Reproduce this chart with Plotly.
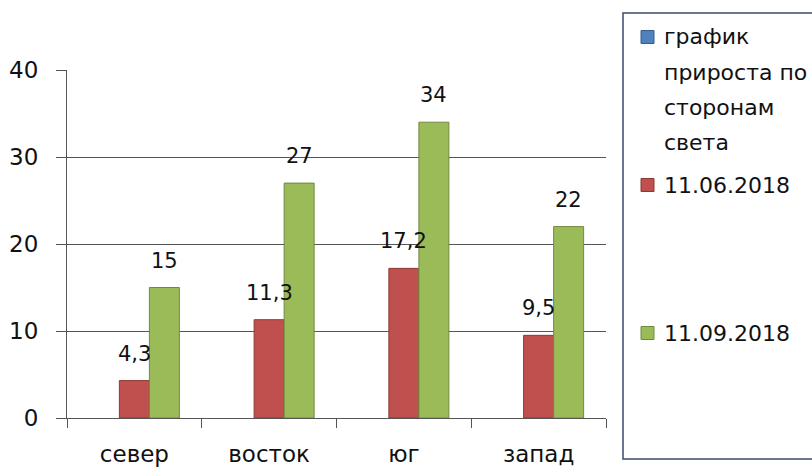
import plotly.graph_objects as go

# Data
categories = ["север", "восток", "юг", "запад"]
series_names = ["график прироста по сторонам света", "11.06.2018", "11.09.2018"]
legend_lines = [["график", "прироста по", "сторонам", "света"], ["11.06.2018"], ["11.09.2018"]]
values_growth = [None, None, None, None]
values_jun = [4.3, 11.3, 17.2, 9.5]
values_sep = [15, 27, 34, 22]
series_values = [values_growth, values_jun, values_sep]

fills = ["#4F81BD", "#C0504D", "#9BBB59"]
edges = ["#385D8A", "#8C3836", "#71893F"]

W, H = 812, 468
ML, MR, MT, MB = 67, 206, 70, 50
PW, PH = W - ML - MR, H - MT - MB
BARGAP = 0.332
FONT = "DejaVu Sans"
AXIS_COLOR = "#555555"
TEXT_COLOR = "#111111"


def px_x(px):
    return (px - ML) / PW


def px_y(py):
    return (H - MB - py) / PH


def fmt(v):
    return f"{v:g}".replace(".", ",")


fig = go.Figure()
for name, vals, fc, ec in zip(series_names, series_values, fills, edges):
    fig.add_trace(go.Bar(
        x=categories, y=vals, name=name,
        marker=dict(color=fc, line=dict(color=ec, width=1)),
        showlegend=False, hoverinfo="skip",
    ))

# value labels above each bar
n = len(series_values)
slot = PW / len(categories) * (1 - BARGAP) / n
annotations = []
for i, vals in enumerate(series_values):
    for cat, v in zip(categories, vals):
        if v is None:
            continue
        annotations.append(dict(
            x=cat, y=v, xref="x", yref="y", text=fmt(v), showarrow=False,
            xshift=(i - (n - 1) / 2) * slot, yshift=27, yanchor="middle",
            font=dict(family=FONT, size=21, color=TEXT_COLOR),
        ))

# legend panel
shapes = [dict(
    type="rect", xref="paper", yref="paper",
    x0=px_x(623), x1=px_x(830), y0=px_y(459), y1=px_y(13),
    line=dict(color="#3D4A6B", width=1.5), fillcolor="rgba(0,0,0,0)",
)]
entry_tops = [37, 185, 333]
line_step = 35
for lines, fc, ec, cy in zip(legend_lines, fills, edges, entry_tops):
    shapes.append(dict(
        type="rect", xref="paper", yref="paper",
        x0=px_x(641), x1=px_x(654), y0=px_y(cy + 6.5), y1=px_y(cy - 6.5),
        fillcolor=fc, line=dict(color=ec, width=1),
    ))
    for k, t in enumerate(lines):
        annotations.append(dict(
            x=px_x(662), y=px_y(cy + k * line_step), xref="paper", yref="paper",
            text=t, showarrow=False, xanchor="left", yanchor="middle",
            font=dict(family=FONT, size=22, color=TEXT_COLOR),
        ))

fig.update_layout(
    width=W, height=H,
    margin=dict(l=ML, r=MR, t=MT, b=MB, autoexpand=False),
    paper_bgcolor="white", plot_bgcolor="white",
    barmode="group", bargap=BARGAP, bargroupgap=0,
    showlegend=False,
    shapes=shapes, annotations=annotations,
    font=dict(family=FONT, color=TEXT_COLOR),
)
fig.update_xaxes(
    showline=True, linecolor=AXIS_COLOR, linewidth=1.2,
    ticks="outside", tickson="boundaries", ticklen=9, tickcolor=AXIS_COLOR, tickwidth=1.2,
    tickfont=dict(family=FONT, size=23, color=TEXT_COLOR),
    ticklabelstandoff=15, showgrid=False,
)
fig.update_yaxes(
    range=[0, 40], dtick=10, tick0=0,
    showline=True, linecolor=AXIS_COLOR, linewidth=1.2,
    ticks="outside", ticklen=10, tickcolor=AXIS_COLOR, tickwidth=1.2,
    showgrid=True, gridcolor=AXIS_COLOR, gridwidth=1.2, zeroline=False,
    tickfont=dict(family=FONT, size=23, color=TEXT_COLOR),
    ticklabelstandoff=13,
)

fig.write_html("out.html")
